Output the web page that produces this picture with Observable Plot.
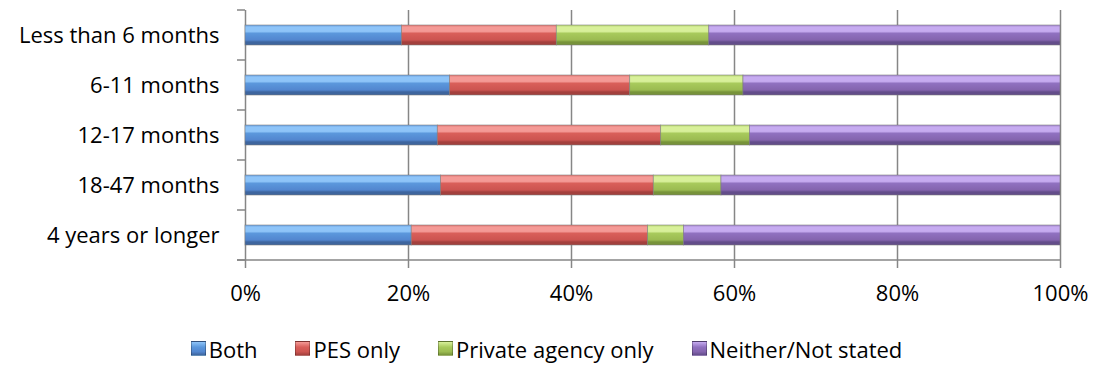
<!DOCTYPE html>
<html><head><meta charset="utf-8">
<script src="https://cdn.jsdelivr.net/npm/d3@7"></script>
<script src="https://cdn.jsdelivr.net/npm/@observablehq/plot@0.6"></script>
<style>
body{margin:0;background:#fff;font-family:"Open Sans",sans-serif;}
#chart{width:1093px;position:relative;}
.legend{display:flex;justify-content:center;align-items:center;gap:38px;font-size:22px;color:#000;height:37px;line-height:1;padding-left:0;}
.legend .item{display:flex;align-items:center;}
.legend .sw{width:15px;height:15px;margin-right:3px;box-sizing:border-box;border:1px solid rgba(0,0,0,0.25);}
</style></head><body>
<svg width="0" height="0" style="position:absolute"><defs id="grads"></defs></svg>
<div id="chart"></div>
<script>
const categories = ["Less than 6 months", "6-11 months", "12-17 months", "18-47 months", "4 years or longer"];
const series = ["Both", "PES only", "Private agency only", "Neither/Not stated"];
const both        = [19.2, 25.1, 23.6, 24.0, 20.4];
const pesOnly     = [19.0, 22.1, 27.4, 26.1, 29.0];
const privateOnly = [18.7, 13.9, 10.9,  8.3,  4.4];
const neither     = [43.1, 38.9, 38.1, 41.6, 46.2];
const xTicks = [0, 20, 40, 60, 80, 100];

// gradient stops per series: [top edge, highlight, body, lower body, bottom edge]
const shades = [
  ["#6aa2e4", "#8ec4f8", "#5b97dc", "#5286cf", "#3e659e"],
  ["#e47672", "#f49a96", "#d95f5a", "#cc5450", "#a3403d"],
  ["#b8d872", "#d8f09a", "#a8ca5c", "#9bbb51", "#77933a"],
  ["#a486d0", "#c6abf0", "#9071c0", "#8464ae", "#634d8a"]
];

const valuesBySeries = [both, pesOnly, privateOnly, neither];
const rows = [];
categories.forEach((c, i) => {
  series.forEach((s, j) => rows.push({category: c, series: s, value: valuesBySeries[j][i]}));
});

// gradients
const defs = d3.select("#grads");
shades.forEach((st, i) => {
  const g = defs.append("linearGradient").attr("id", "g" + i)
    .attr("x1", 0).attr("y1", 0).attr("x2", 0).attr("y2", 1);
  [[0, st[0]], [0.12, st[1]], [0.32, st[1]], [0.42, st[2]], [0.75, st[3]], [0.85, st[4]], [1, st[4]]]
    .forEach(([o, c]) => g.append("stop").attr("offset", o).attr("stop-color", c));
});

const axisColor = "#868686";
const plot = Plot.plot({
  width: 1093,
  height: 330,
  marginLeft: 245,
  marginRight: 33,
  marginTop: 10,
  marginBottom: 70,
  style: {fontFamily: '"Open Sans", sans-serif', fontSize: "22px", color: "#000", background: "#fff"},
  x: {domain: [0, 100], label: null},
  y: {domain: categories, paddingInner: 0.6, paddingOuter: 0.3, label: null},
  color: {domain: series, range: series.map((s, i) => `url(#g${i})`)},
  marks: [
    Plot.gridX(xTicks, {stroke: axisColor, strokeOpacity: 1, strokeWidth: 1.5}),
    Plot.barX(rows, {y: "category", x: "value", fill: "series", stroke: "#7a7a7a", strokeOpacity: 0.7, strokeWidth: 0.8}),
    Plot.axisX({ticks: xTicks, tickSize: 8, tickPadding: 17, tickFormat: d => d + "%", stroke: axisColor, strokeWidth: 1.5, fontSize: 22, fill: "#000", label: null}),
    Plot.axisY({tickSize: 0, tickPadding: 26, fontSize: 22, fill: "#000", label: null})
  ]
});

// category-boundary ticks on y and baseline, derived from the plot's scales
const xs = plot.scale("x"), ys = plot.scale("y");
const gap = (ys.step - ys.bandwidth) / 2;
const bounds = categories.map(c => ys.apply(c) - gap);
bounds.push(ys.apply(categories[categories.length - 1]) + ys.bandwidth + gap);
const x0 = xs.apply(0), x1 = xs.apply(100);
const ag = d3.select(plot).append("g").attr("stroke", axisColor).attr("stroke-width", 1.5);
bounds.forEach(b => ag.append("line").attr("x1", x0 - 8).attr("x2", x0).attr("y1", b).attr("y2", b));
ag.append("line").attr("x1", x0 - 8).attr("x2", x1).attr("y1", bounds[bounds.length - 1]).attr("y2", bounds[bounds.length - 1]);

const chart = document.getElementById("chart");
chart.appendChild(plot);

const legend = document.createElement("div");
legend.className = "legend";
series.forEach((s, i) => {
  const it = document.createElement("div");
  it.className = "item";
  const sw = document.createElement("span");
  sw.className = "sw";
  const st = shades[i];
  sw.style.background = `linear-gradient(to bottom, ${st[1]} 0%, ${st[2]} 40%, ${st[3]} 75%, ${st[4]} 100%)`;
  const tx = document.createElement("span");
  tx.textContent = s;
  it.appendChild(sw); it.appendChild(tx);
  legend.appendChild(it);
});
chart.appendChild(legend);
</script>
</body></html>
